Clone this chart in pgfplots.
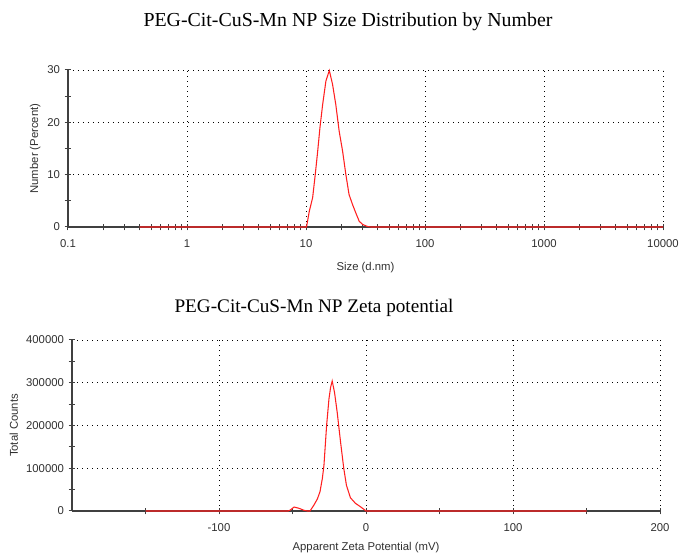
\documentclass[border=0pt]{standalone}
\usepackage{fontspec}
\setmainfont{Liberation Serif}
\setsansfont{Liberation Sans}
\usepackage{pgfplots}
\pgfplotsset{compat=1.18}
\definecolor{axgray}{HTML}{404040}
\definecolor{txtgray}{HTML}{303030}
\definecolor{curvered}{HTML}{FF2020}
\begin{document}
\begin{tikzpicture}
\useasboundingbox (0,0) rectangle (510.75pt,416.25pt);
\pgfplotsset{
  dlsstyle/.style={
    scale only axis,
    axis lines=left,
    axis line style={-, draw=axgray, line width=1.1pt},
    tick align=center,
    major tick length=5pt,
    minor tick length=5pt,
    tick style={draw=axgray, line width=0.75pt},
    grid=major,
    major grid style={black, line width=0.6pt, dash pattern=on 0.6pt off 3.15pt},
    ticklabel style={font=\sffamily\fontsize{8.5}{10}\selectfont, text=txtgray},
    xticklabel style={yshift=-3.2pt},
    label style={font=\sffamily\fontsize{8.5}{10}\selectfont, text=txtgray},
    /pgf/number format/assume math mode=true,
    /pgf/number format/fixed,
    /pgf/number format/1000 sep={},
    clip=false,
  }
}
\begin{axis}[dlsstyle, at={(51pt,246pt)}, anchor=south west,
  width=446.25pt, height=117.75pt,
  xmode=log, xmin=0.1, xmax=10000, ymin=0, ymax=30,
  xtick={0.1,1,10,100,1000,10000},
  xticklabels={0.1,1,10,100,1000,10000},
  minor xtick={0.2,0.3,0.4,0.5,0.6,0.7,0.8,0.9,2,3,4,5,6,7,8,9,20,30,40,50,60,70,80,90,200,300,400,500,600,700,800,900,2000,3000,4000,5000,6000,7000,8000,9000},
  ytick={0,10,20,30}, minor ytick={5,15,25},
  xlabel={Size (d.nm)}, ylabel={Number (Percent)},
  xlabel style={at={(axis description cs:0.5,-0.261)}, anchor=center},
  ylabel style={at={(axis description cs:-0.055,0.5)}, anchor=center},
]
\addplot[curvered, line width=0.8pt] coordinates {
(0.4,0) (10.1,0) (10.67,3.06) (11.37,5.6) (11.97,10.1) (12.54,14.5) (13.1,19.0)
(13.8,23.4) (14.7,27.9) (15.7,29.9) (16.7,27.3) (17.8,23.4) (19.0,18.3)
(20.3,14.5) (21.6,10.1) (23.0,6.2) (24.6,4.3) (26.2,2.7) (28.0,1.1)
(29.8,0.5) (32.8,0.1) (35,0) (10000,0)
};
\end{axis}
\begin{axis}[dlsstyle, at={(54pt,33pt)}, anchor=south west,
  width=441pt, height=128.25pt,
  xmin=-200, xmax=200, ymin=0, ymax=400000,
  xtick={-100,0,100,200}, minor xtick={-150,-50,50,150},
  ytick={0,100000,200000,300000,400000},
  minor ytick={50000,150000,250000,350000},
  scaled y ticks=false,
  xlabel={Apparent Zeta Potential (mV)}, ylabel={Total Counts},
  xlabel style={at={(axis description cs:0.5,-0.216)}, anchor=center},
  ylabel style={at={(axis description cs:-0.099,0.5)}, anchor=center},
]
\addplot[curvered, line width=0.8pt] coordinates {
(-150,0) (-53,0) (-51.6,2000) (-48.9,9300) (-45.5,6200) (-42.1,1500) (-39.9,0)
(-38.1,0) (-35.4,14000) (-33.1,28000) (-31.3,45000) (-29.7,76000) (-28.6,107000)
(-26.8,200000) (-25.2,262000) (-24.1,289000) (-23.0,304000) (-21.4,277000)
(-19.6,231000) (-17.3,161000) (-15.1,99000) (-13.3,60000) (-10.6,31000)
(-7.2,18000) (-3.8,10000) (-0.5,1500) (0,0) (150,0)
};
\end{axis}
\node[font=\fontsize{14.9}{17}\selectfont] at (261pt,399.75pt) {PEG-Cit-CuS-Mn NP Size Distribution by Number};
\node[font=\fontsize{14.4}{17}\selectfont] at (235.5pt,185.25pt) {PEG-Cit-CuS-Mn NP Zeta potential};
\end{tikzpicture}
\end{document}
